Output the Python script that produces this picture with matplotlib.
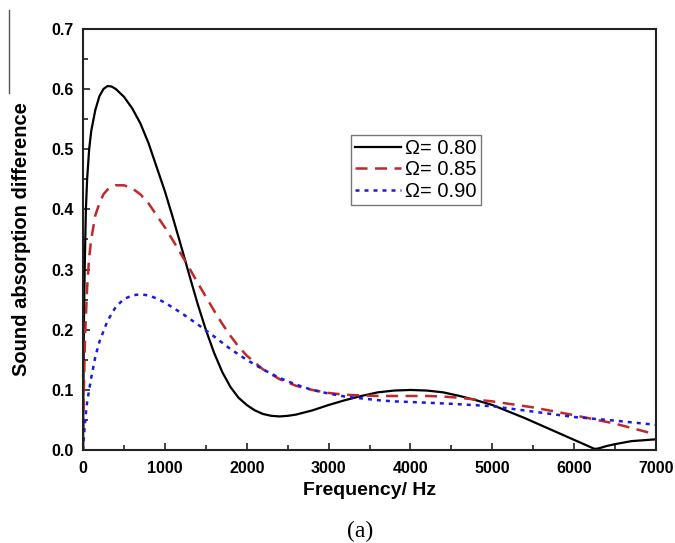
import numpy as np
import matplotlib
matplotlib.use("Agg")
import matplotlib.pyplot as plt
from matplotlib.lines import Line2D

# values
freq_080 = [0, 10, 20, 35, 50, 75, 100, 150, 200, 250, 300, 350, 400, 500, 600, 700, 800, 900,
            1000, 1100, 1200, 1300, 1400, 1500, 1600, 1700, 1800, 1900, 2000, 2100, 2200, 2300,
            2400, 2500, 2600, 2800, 3000, 3200, 3400, 3600, 3800, 4000, 4200, 4400, 4600, 4800,
            5000, 5200, 5400, 5600, 5800, 6000, 6100, 6200, 6250, 6300, 6400, 6500, 6700, 7000]
sad_080 = [0.0, 0.2, 0.3, 0.4, 0.45, 0.5, 0.53, 0.565, 0.588, 0.6, 0.605, 0.604, 0.6, 0.587, 0.568,
           0.543, 0.51, 0.47, 0.43, 0.385, 0.338, 0.29, 0.243, 0.2, 0.162, 0.13, 0.105, 0.087,
           0.075, 0.066, 0.06, 0.057, 0.056, 0.057, 0.059, 0.066, 0.075, 0.083, 0.09, 0.096, 0.099,
           0.1, 0.099, 0.096, 0.09, 0.083, 0.075, 0.064, 0.053, 0.041, 0.029, 0.017, 0.011, 0.005,
           0.002, 0.003, 0.007, 0.01, 0.015, 0.018]

freq_085 = [0, 10, 25, 50, 75, 100, 150, 200, 250, 300, 400, 500, 600, 700, 800, 900, 1000, 1100,
            1200, 1300, 1400, 1500, 1600, 1700, 1800, 1900, 2000, 2200, 2400, 2600, 2800, 3000,
            3200, 3400, 3600, 3800, 4000, 4200, 4400, 4600, 4800, 5000, 5500, 6000, 6500, 7000]
sad_085 = [0.0, 0.1, 0.19, 0.27, 0.32, 0.35, 0.39, 0.41, 0.425, 0.433, 0.44, 0.44, 0.435, 0.425,
           0.41, 0.39, 0.37, 0.348, 0.325, 0.302, 0.278, 0.255, 0.232, 0.21, 0.19, 0.172, 0.157,
           0.134, 0.118, 0.107, 0.1, 0.095, 0.092, 0.091, 0.09, 0.09, 0.09, 0.09, 0.089, 0.087,
           0.084, 0.081, 0.071, 0.058, 0.044, 0.026]

freq_090 = [0, 15, 30, 50, 75, 100, 150, 200, 300, 400, 500, 600, 700, 800, 900, 1000, 1200, 1400,
            1600, 1800, 2000, 2200, 2400, 2600, 2800, 3000, 3200, 3400, 3600, 3800, 4000, 4500,
            5000, 5500, 6000, 6500, 7000]
sad_090 = [0.0, 0.03, 0.055, 0.08, 0.1, 0.12, 0.155, 0.18, 0.215, 0.238, 0.251, 0.257, 0.259,
           0.257, 0.252, 0.245, 0.228, 0.209, 0.189, 0.168, 0.15, 0.134, 0.12, 0.109, 0.1, 0.094,
           0.089, 0.086, 0.083, 0.081, 0.08, 0.077, 0.073, 0.064, 0.055, 0.049, 0.042]

labels = ["Ω= 0.80", "Ω= 0.85", "Ω= 0.90"]

plt.rcParams['font.family'] = ['Liberation Sans', 'DejaVu Sans']

fig = plt.figure(figsize=(6.75, 5.43), dpi=100)
ax = fig.add_axes([0.123, 0.171, 0.849, 0.776])

ax.plot(freq_080, sad_080, color='black', lw=1.6, label=labels[0])
ax.plot(freq_085, sad_085, color='#c0282a', lw=1.8, dashes=(4.8, 3.0), label=labels[1])
ax.plot(freq_090, sad_090, color='#1a1ae6', lw=1.8, dashes=(1.6, 2.0), label=labels[2])

ax.set_xlim(0, 7000)
ax.set_ylim(0, 0.7)
ax.set_xticks(np.arange(0, 7001, 1000))
ax.set_xticks(np.arange(500, 7000, 1000), minor=True)
ax.set_yticks(np.arange(0, 0.71, 0.1))
ax.set_yticks(np.arange(0.05, 0.7, 0.1), minor=True)
ax.set_xticklabels([str(v) for v in range(0, 7001, 1000)])
ax.set_yticklabels(["%.1f" % v for v in np.arange(0, 0.71, 0.1)])
ax.tick_params(which='both', direction='in', top=False, right=False, width=1.3, color='#333333')
ax.tick_params(which='major', length=5, labelsize=11.5)
ax.tick_params(axis='x', which='major', pad=8)
ax.tick_params(axis='y', which='major', pad=7)
ax.tick_params(which='minor', length=3.5)
for lab in ax.get_xticklabels() + ax.get_yticklabels():
    lab.set_fontweight('bold')
for sp in ax.spines.values():
    sp.set_linewidth(1.5)
    sp.set_color('#222222')

ax.set_xlabel("Frequency/ Hz", fontsize=14, fontweight='bold', labelpad=4)
ax.set_ylabel("Sound absorption difference", fontsize=14.5, fontweight='bold', labelpad=14)

leg = ax.legend(loc='upper left', bbox_to_anchor=(351 / 675, 1 - 135 / 543),
                bbox_transform=fig.transFigure, fontsize=14.5, handlelength=2.3,
                handletextpad=0.2, borderpad=0.2, labelspacing=0.12,
                borderaxespad=0, fancybox=False, framealpha=1)
leg.get_frame().set_edgecolor('#777777')
leg.get_frame().set_linewidth(1.0)

fig.text(0.533, 0.022, "(a)", fontsize=17, family='Liberation Serif', ha='center', va='center')

# stray scan line at top-left of the original
fig.add_artist(Line2D([9 / 675, 9 / 675], [1 - 10 / 543, 1 - 93 / 543],
                      color='#555555', lw=1.0, transform=fig.transFigure))

fig.savefig("out.png", dpi=100)
